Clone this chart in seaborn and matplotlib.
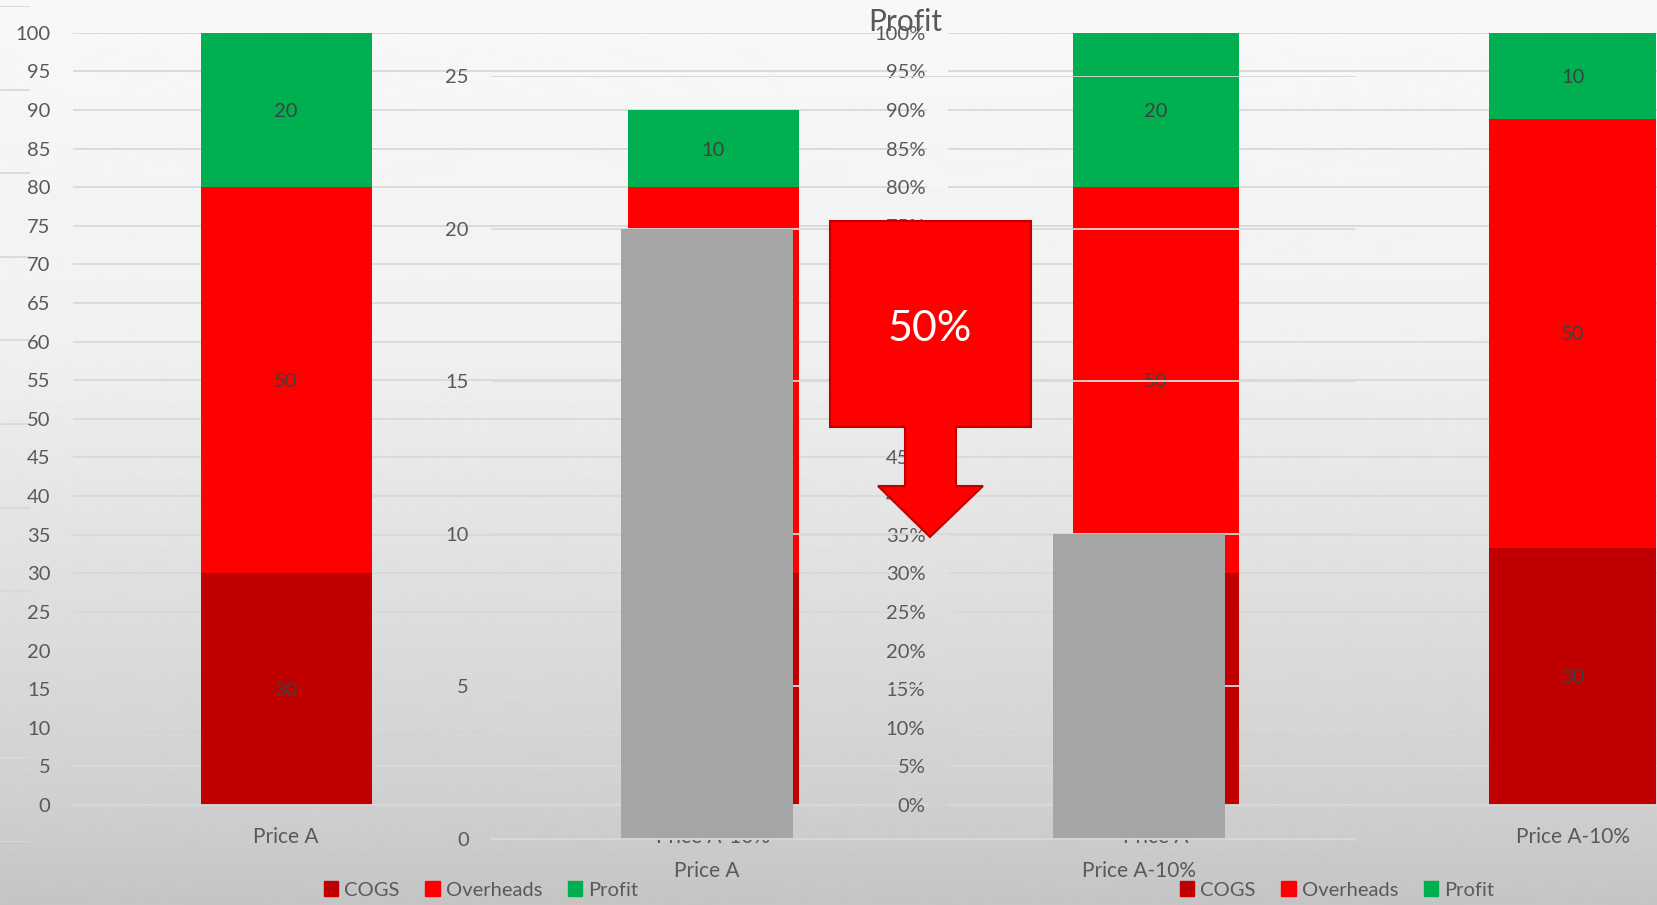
import numpy as np
import pandas as pd
import matplotlib
matplotlib.use("Agg")
import matplotlib.pyplot as plt
import matplotlib.patches as mpatches
import seaborn as sns

# ---- data -------------------------------------------------------------
categories = ["Price A", "Price A-10%"]
cogs = [30, 30]
overheads = [50, 50]
profit = [20, 10]
series_names = ["COGS", "Overheads", "Profit"]

value_ticks = list(range(0, 101, 5))      # absolute scale
percent_ticks = list(range(0, 101, 5))    # 100 % stacked scale
profit_ticks = list(range(0, 26, 5))      # profit-only scale
back_ticks = list(range(0, 11))           # panel sitting behind the others

# ---- styling ----------------------------------------------------------
sns.set_theme(style="white")
plt.rcParams["font.family"] = ["Lato", "DejaVu Sans"]

COL_COGS = "#c00000"
COL_OVER = "#ff0000"
COL_PROFIT = "#00b050"
COL_GREY_BAR = "#a5a5a5"
COL_GRID = "#d9d9d9"
COL_TICK = "#595959"
COL_LABEL = "#404040"

W, H = 1657, 905
fig = plt.figure(figsize=(W / 100, H / 100), dpi=100)


def rect(x0, y_top, x1, y_bot):
    return [x0 / W, 1 - y_bot / H, (x1 - x0) / W, (y_bot - y_top) / H]


# gradient backdrop
ax_bg = fig.add_axes([0, 0, 1, 1], zorder=0)
rows = np.arange(H)
shade = np.interp(rows, [0, 333, 500, 800, H], [0.973, 0.945, 0.90, 0.816, 0.77])
ax_bg.imshow(shade[:, None], cmap="gray", vmin=0, vmax=1, aspect="auto",
             extent=(0, 1, 0, 1), interpolation="bilinear")
ax_bg.set_axis_off()

# narrow strip of an underlying panel's gridlines at the far left
ax_back = fig.add_axes(rect(0, 6, 30, 842), zorder=1)
ax_back.set_ylim(back_ticks[0], back_ticks[-1])
ax_back.set_yticks(back_ticks)
ax_back.yaxis.grid(True, color=COL_GRID, lw=1.3)
ax_back.tick_params(left=False, labelleft=False, bottom=False, labelbottom=False)
for s in ax_back.spines.values():
    s.set_visible(False)
ax_back.patch.set_alpha(0)

df = pd.DataFrame({"category": categories, "COGS": cogs,
                   "Overheads": overheads, "Profit": profit})


def stacked(ax, scale):
    """Draw stacked columns by layering cumulative totals; labels keep raw values."""
    c1 = df["COGS"] * scale
    c2 = (df["COGS"] + df["Overheads"]) * scale
    c3 = (df["COGS"] + df["Overheads"] + df["Profit"]) * scale
    for heights, col in [(c3, COL_PROFIT), (c2, COL_OVER), (c1, COL_COGS)]:
        sns.barplot(x=df["category"], y=heights, color=col, width=0.4,
                    errorbar=None, linewidth=0, saturation=1, ax=ax)
    bottoms = [np.zeros(len(df)), c1.values, c2.values]
    tops = [c1.values, c2.values, c3.values]
    for name, b, t in zip(series_names, bottoms, tops):
        for i, v in enumerate(df[name]):
            ax.text(i, (b[i] + t[i]) / 2, f"{v}", ha="center",
                    va="center_baseline", fontsize=14.5, color=COL_LABEL)


def style_axis(ax, ticks, fmt, bottom_ticks=True):
    ax.set_ylim(ticks[0], ticks[-1])
    ax.set_yticks(ticks)
    ax.set_yticklabels([fmt(t) for t in ticks])
    ax.set_xlim(-0.5, 1.5)
    ax.set_xlabel("")
    ax.set_ylabel("")
    ax.yaxis.grid(True, color=COL_GRID, lw=1.3)
    ax.set_axisbelow(True)
    for s in ["top", "right", "left"]:
        ax.spines[s].set_visible(False)
    ax.spines["bottom"].set_color(COL_GRID)
    ax.spines["bottom"].set_linewidth(1.3)
    ax.tick_params(axis="y", length=0, pad=16, labelsize=14.5, labelcolor=COL_TICK)
    ax.tick_params(axis="x", which="major", length=0, pad=16, labelsize=15,
                   labelcolor=COL_TICK)
    if bottom_ticks:
        ax.set_xticks([-0.5, 0.5, 1.5], minor=True)
        ax.tick_params(axis="x", which="minor", length=6, width=1.3,
                       color=COL_GRID, direction="out")
    ax.patch.set_alpha(0)


# absolute stacked columns
ax1 = fig.add_axes(rect(72.5, 32.7, 927, 805), zorder=2)
stacked(ax1, 1.0)
style_axis(ax1, value_ticks, lambda t: f"{t}")

# 100 % stacked columns
ax2 = fig.add_axes(rect(947.5, 32.7, 1781, 805), zorder=3)
totals = df["COGS"] + df["Overheads"] + df["Profit"]
stacked(ax2, 100.0 / totals)
style_axis(ax2, percent_ticks, lambda t: f"{t}%")

# profit-only columns
ax3 = fig.add_axes(rect(491, 76, 1355, 839), zorder=4)
sns.barplot(x=df["category"], y=df["Profit"], color=COL_GREY_BAR, width=0.4,
            errorbar=None, linewidth=0, saturation=1, ax=ax3)
style_axis(ax3, profit_ticks, lambda t: f"{t}", bottom_ticks=False)

# legends
legend_handles = [mpatches.Patch(color=c) for c in (COL_COGS, COL_OVER, COL_PROFIT)]
for cx in (481 / W, 1337 / W):
    fig.legend(legend_handles, series_names, loc="center",
               bbox_to_anchor=(cx, 1 - 890 / H), ncol=3, frameon=False,
               fontsize=14.5, labelcolor=COL_TICK, handlelength=0.7,
               handleheight=0.7, handletextpad=0.3, columnspacing=1.3,
               borderpad=0, borderaxespad=0)

fig.text(905 / W, 1 - 22 / H, "Profit", ha="center", va="center",
         fontsize=21.5, color=COL_TICK, zorder=10)

# down-arrow callout with the profit drop
drop = (profit[0] - profit[1]) / profit[0]
arrow_px = [(830, 221), (1031, 221), (1031, 427), (956, 427), (956, 486),
            (983, 486), (930, 537), (878, 486), (905, 486), (905, 427),
            (830, 427)]
arrow = mpatches.Polygon([(x / W, 1 - y / H) for x, y in arrow_px],
                         closed=True, transform=fig.transFigure,
                         facecolor="#ff0000", edgecolor="#c00000", lw=1.5,
                         zorder=10)
fig.patches.append(arrow)
fig.text(930 / W, 1 - 329 / H, f"{drop:.0%}", ha="center", va="center",
         fontsize=31, color="white", zorder=11)

fig.savefig("out.png", dpi=100)
